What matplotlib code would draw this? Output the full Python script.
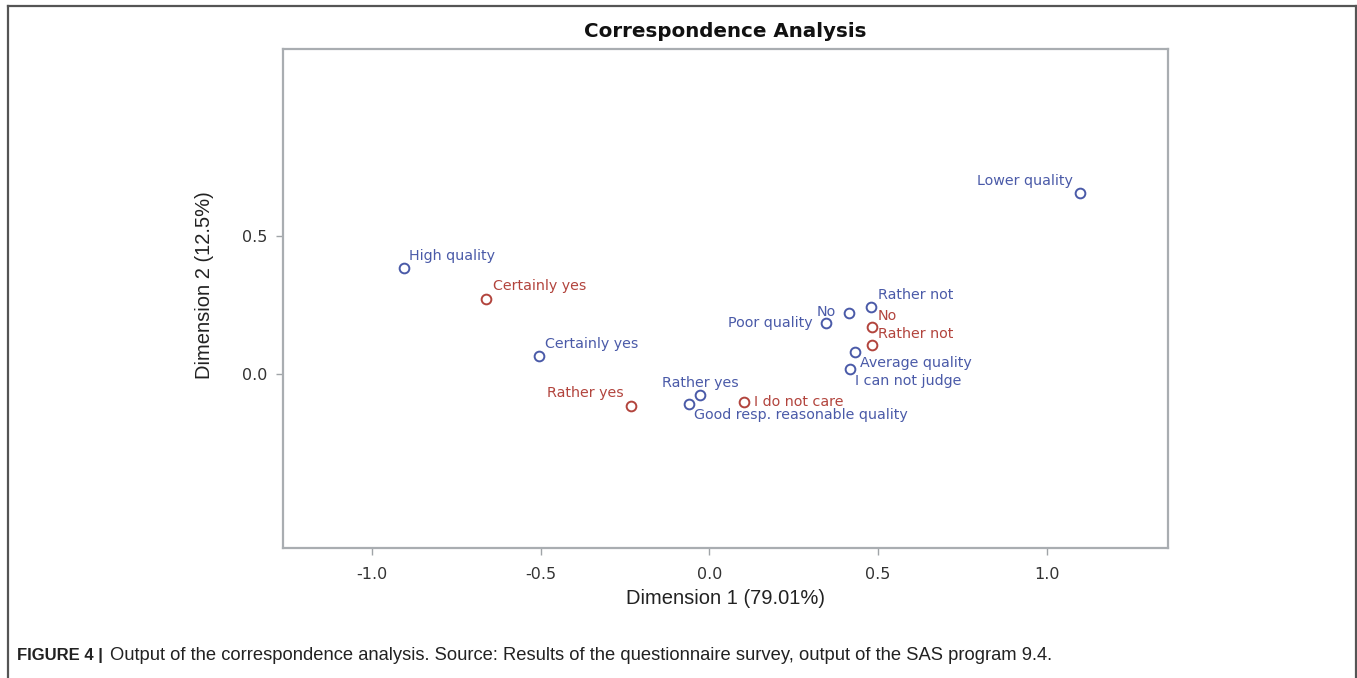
import matplotlib
matplotlib.use('Agg')
import matplotlib.pyplot as plt
from matplotlib.lines import Line2D

# column points (quality ratings) - blue
blue_labels = ['High quality', 'Certainly yes', 'Rather yes', 'Good resp. reasonable quality',
               'Poor quality', 'No', 'Rather not', 'Average quality', 'I can not judge', 'Lower quality']
blue_x = [-0.905, -0.505, -0.028, -0.061, 0.345, 0.413, 0.479, 0.431, 0.416, 1.098]
blue_y = [0.383, 0.066, -0.077, -0.109, 0.186, 0.219, 0.241, 0.077, 0.018, 0.657]

# row points - red
red_labels = ['Certainly yes', 'Rather yes', 'I do not care', 'No', 'Rather not']
red_x = [-0.662, -0.233, 0.102, 0.481, 0.481]
red_y = [0.270, -0.117, -0.102, 0.168, 0.106]

x_ticks = [-1.0, -0.5, 0.0, 0.5, 1.0]
y_ticks = [0.0, 0.5]

# label placement (dx, dy in pixels, ha)
blue_place = [(5, 12, 'left'), (6, 12, 'left'), (0, 12, 'center'), (5, -11, 'left'),
              (-13, 0, 'right'), (-13, 1, 'right'), (7, 12, 'left'), (5, -11, 'left'),
              (5, -12, 'left'), (-7, 12, 'right')]
red_place = [(7, 13, 'left'), (-7, 13, 'right'), (10, 0, 'left'), (6, 11, 'left'), (6, 11, 'left')]

BLUE = '#4a5aa8'
RED = '#b2443d'

fig = plt.figure(figsize=(13.57, 6.78), dpi=100)
ax = fig.add_axes([0.2085, 0.1917, 0.6522, 0.736])

ax.plot(blue_x, blue_y, 'o', mfc='none', mec=BLUE, mew=1.4, ms=7)
ax.plot(red_x, red_y, 'o', mfc='none', mec=RED, mew=1.4, ms=7)

for lab, x, y, (dx, dy, ha) in zip(blue_labels, blue_x, blue_y, blue_place):
    ax.annotate(lab, (x, y), xytext=(dx, dy), textcoords='offset pixels',
                ha=ha, va='center', color=BLUE, fontsize=10.3, family='DejaVu Sans')
for lab, x, y, (dx, dy, ha) in zip(red_labels, red_x, red_y, red_place):
    ax.annotate(lab, (x, y), xytext=(dx, dy), textcoords='offset pixels',
                ha=ha, va='center', color=RED, fontsize=10.3, family='DejaVu Sans')

ax.set_xlim(-1.264, 1.359)
ax.set_ylim(-0.635, 1.182)
ax.set_xticks(x_ticks)
ax.set_xticklabels([f'{t:.1f}' for t in x_ticks])
ax.set_yticks(y_ticks)
ax.set_yticklabels([f'{t:.1f}' for t in y_ticks])
ax.tick_params(colors='#a0a4a8', labelcolor='#333333', labelsize=11.5, length=5, width=1)
ax.tick_params(axis='x', pad=9)
ax.tick_params(axis='y', pad=6)
for lab in ax.get_xticklabels() + ax.get_yticklabels():
    lab.set_family('DejaVu Sans')
for s in ax.spines.values():
    s.set_color('#a9adb1')
    s.set_linewidth(1.6)

ax.set_xlabel('Dimension 1 (79.01%)', fontsize=14.5, family='Liberation Sans', color='#222222', labelpad=8)
ax.set_ylabel('Dimension 2 (12.5%)', fontsize=14.5, family='Liberation Sans', color='#222222')
ax.xaxis.set_label_coords(0.5, -0.082)
ax.yaxis.set_label_coords(-0.078, 0.527)

fig.text(0.5347, 0.954, 'Correspondence Analysis', ha='center', va='center',
         fontsize=14.3, fontweight='bold', family='DejaVu Sans', color='#111111')

# caption
fig.text(0.0125, 0.0325, 'FIGURE 4 |', ha='left', va='center', fontsize=12,
         fontweight='bold', family='Liberation Sans', color='#222222')
fig.text(110 / 1357, 0.0325,
         'Output of the correspondence analysis. Source: Results of the questionnaire survey, output of the SAS program 9.4.',
         ha='left', va='center', fontsize=13.2, family='Liberation Sans', color='#222222')

# outer frame
for xs, ys in [([0.006, 0.006], [0.0, 0.991]), ([0.006, 0.9992], [0.991, 0.991]), ([0.9992, 0.9992], [0.991, 0.0])]:
    fig.add_artist(Line2D(xs, ys, color='#555555', lw=1.6, transform=fig.transFigure))

fig.savefig('out.png', dpi=100)
